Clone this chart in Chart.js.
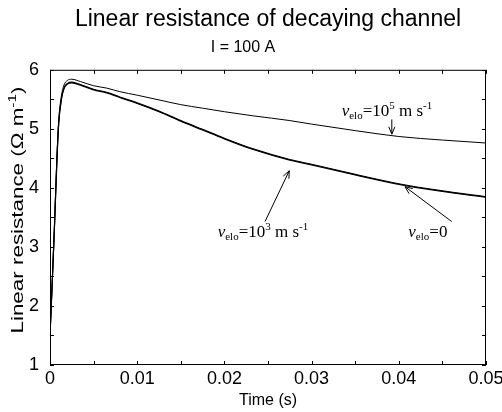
<!DOCTYPE html>
<html>
<head>
<meta charset="utf-8">
<script src="https://cdn.jsdelivr.net/npm/chart.js@4.4.1/dist/chart.umd.min.js"></script>
<style>
  body { margin: 0; background: #fff; }
  canvas { display: block; }
</style>
</head>
<body>
<canvas id="chart" width="502" height="412"></canvas>
<script>
// data
const timeS = [0, 0.0002, 0.0005, 0.0008, 0.001, 0.0013, 0.0016, 0.002, 0.0025, 0.0035,
  0.005, 0.0065, 0.008, 0.01, 0.0125, 0.015, 0.0175, 0.02, 0.0233, 0.0275,
  0.03, 0.035, 0.04, 0.045, 0.05];
const rVelo0 = [1.5, 2.2, 3.3, 4.5, 5.1, 5.5, 5.68, 5.76, 5.78, 5.74,
  5.66, 5.61, 5.53, 5.43, 5.29, 5.13, 4.98, 4.83, 4.65, 4.47,
  4.39, 4.22, 4.06, 3.94, 3.84];
const rVelo1e3 = [1.5, 2.2, 3.3, 4.5, 5.1, 5.5, 5.69, 5.77, 5.79, 5.75,
  5.67, 5.62, 5.54, 5.44, 5.30, 5.14, 4.99, 4.84, 4.66, 4.48,
  4.40, 4.23, 4.07, 3.95, 3.85];
const rVelo1e5 = [1.5, 2.2, 3.3, 4.55, 5.15, 5.55, 5.74, 5.82, 5.84, 5.80,
  5.73, 5.69, 5.63, 5.57, 5.49, 5.41, 5.35, 5.29, 5.22, 5.14,
  5.08, 4.97, 4.87, 4.81, 4.76];
const xTicks = [0, 0.01, 0.02, 0.03, 0.04, 0.05];
const yTicks = [1, 2, 3, 4, 5, 6];

const toXY = (ys) => ys.map((y, i) => ({ x: timeS[i], y: y }));

// labels on the plot: [text pieces], anchor in data units, arrow from/to in data units
const notes = [
  { at: [0.03345, 5.22], parts: [['v', 'i'], ['elo', 'sub'], ['=10', ''], ['5', 'sup'], [' m s', ''], ['-1', 'sup']],
    arrow: [[0.0392, 5.16], [0.0392, 4.91]] },
  { at: [0.01923, 3.175], parts: [['v', 'i'], ['elo', 'sub'], ['=10', ''], ['3', 'sup'], [' m s', ''], ['-1', 'sup']],
    arrow: [[0.02466, 3.43], [0.02744, 4.29]] },
  { at: [0.04109, 3.175], parts: [['v', 'i'], ['elo', 'sub'], ['=0', '']],
    arrow: [[0.04607, 3.43], [0.04071, 4.02]] },
];

const serif = '"Liberation Serif", "Times New Roman", serif';
const sans = '"Liberation Sans", Arial, Helvetica, sans-serif';

function partFont(kind) {
  if (kind === 'i') return 'italic 17px ' + serif;
  if (kind === 'sub' || kind === 'sup') return '11px ' + serif;
  return '17px ' + serif;
}

const framePlugin = {
  id: 'frame',
  afterDraw(chart) {
    const ctx = chart.ctx;
    const a = chart.chartArea;
    const xs = chart.scales.x, ys = chart.scales.y;
    ctx.save();
    ctx.strokeStyle = '#000';
    ctx.lineWidth = 1;
    ctx.strokeRect(a.left + 0.5, a.top + 0.5, a.right - a.left - 1, a.bottom - a.top - 1);
    // inward ticks, every half step, all four sides
    ctx.beginPath();
    for (let i = 0; i < xTicks.length; i++) {
      const vals = [xTicks[i]];
      if (i < xTicks.length - 1) vals.push((xTicks[i] + xTicks[i + 1]) / 2);
      vals.forEach(v => {
        const px = Math.round(xs.getPixelForValue(v)) + 0.5;
        ctx.moveTo(px, a.bottom); ctx.lineTo(px, a.bottom - 4);
        ctx.moveTo(px, a.top); ctx.lineTo(px, a.top + 4);
      });
    }
    for (let i = 0; i < yTicks.length; i++) {
      const vals = [yTicks[i]];
      if (i < yTicks.length - 1) vals.push((yTicks[i] + yTicks[i + 1]) / 2);
      vals.forEach(v => {
        const py = Math.round(ys.getPixelForValue(v)) + 0.5;
        ctx.moveTo(a.left, py); ctx.lineTo(a.left + 4, py);
        ctx.moveTo(a.right, py); ctx.lineTo(a.right - 4, py);
      });
    }
    ctx.stroke();

    // y axis title, drawn long like the reference
    ctx.translate(19, 210);
    ctx.rotate(-Math.PI / 2);
    ctx.scale(1.4, 1);
    ctx.fillStyle = '#000';
    ctx.textBaseline = 'middle';
    const main = 'Linear resistance (Ω m';
    ctx.font = '16px ' + sans;
    const w1 = ctx.measureText(main).width;
    ctx.font = '11px ' + sans;
    const w2 = ctx.measureText('-1').width;
    ctx.font = '16px ' + sans;
    const w3 = ctx.measureText(')').width;
    let x0 = -(w1 + w2 + w3) / 2;
    ctx.fillText(main, x0, 0);
    ctx.font = '11px ' + sans;
    ctx.fillText('-1', x0 + w1, -6);
    ctx.font = '16px ' + sans;
    ctx.fillText(')', x0 + w1 + w2, 0);
    ctx.restore();

    // notes with arrows
    ctx.save();
    ctx.fillStyle = '#000';
    ctx.strokeStyle = '#000';
    ctx.lineWidth = 1;
    ctx.textBaseline = 'alphabetic';
    notes.forEach(n => {
      let x = xs.getPixelForValue(n.at[0]);
      const y = ys.getPixelForValue(n.at[1]);
      n.parts.forEach(([t, kind]) => {
        ctx.font = partFont(kind);
        const dy = kind === 'sub' ? 3 : kind === 'sup' ? -7 : 0;
        ctx.fillText(t, x, y + dy);
        x += ctx.measureText(t).width;
      });
      const x1 = xs.getPixelForValue(n.arrow[0][0]), y1 = ys.getPixelForValue(n.arrow[0][1]);
      const x2 = xs.getPixelForValue(n.arrow[1][0]), y2 = ys.getPixelForValue(n.arrow[1][1]);
      const ang = Math.atan2(y2 - y1, x2 - x1);
      ctx.beginPath();
      ctx.moveTo(x1, y1); ctx.lineTo(x2, y2);
      ctx.moveTo(x2 - 8 * Math.cos(ang - 0.4), y2 - 8 * Math.sin(ang - 0.4));
      ctx.lineTo(x2, y2);
      ctx.lineTo(x2 - 8 * Math.cos(ang + 0.4), y2 - 8 * Math.sin(ang + 0.4));
      ctx.stroke();
    });
    ctx.restore();
  }
};

new Chart(document.getElementById('chart').getContext('2d'), {
  type: 'line',
  data: {
    datasets: [
      { label: 'velo=10^5', data: toXY(rVelo1e5), borderColor: '#000', borderWidth: 1 },
      { label: 'velo=10^3', data: toXY(rVelo1e3), borderColor: '#000', borderWidth: 1.2 },
      { label: 'velo=0', data: toXY(rVelo0), borderColor: '#000', borderWidth: 1.2 },
    ]
  },
  options: {
    responsive: false,
    animation: false,
    cubicInterpolationMode: 'monotone',
    elements: { point: { radius: 0 } },
    layout: { padding: { left: 0, right: 16, top: 0, bottom: 0 } },
    plugins: {
      legend: { display: false },
      tooltip: { enabled: false },
      title: {
        display: true,
        fullSize: false,
        text: 'Linear resistance of decaying channel',
        color: '#000',
        font: { family: sans, size: 23, weight: 'normal' },
        padding: { top: 6, bottom: 2 }
      },
      subtitle: {
        display: true,
        text: 'I = 100 A',
        color: '#000',
        font: { family: sans, size: 16, weight: 'normal' },
        padding: { top: 2, bottom: 13 }
      }
    },
    scales: {
      x: {
        type: 'linear',
        min: 0, max: 0.05,
        afterBuildTicks: (s) => { s.ticks = xTicks.map(v => ({ value: v })); },
        afterFit: (s) => { s.height = 47; s.paddingLeft = 0; s.paddingRight = 0; },
        grid: { display: false },
        border: { display: false },
        ticks: {
          color: '#000', padding: -5, maxRotation: 0, autoSkip: false,
          font: { family: sans, size: 18 },
          callback: (v) => String(+v.toFixed(2))
        },
        title: {
          display: true, text: 'Time (s)', color: '#000',
          font: { family: sans, size: 16 }, padding: { top: 0, bottom: 2 }
        }
      },
      y: {
        type: 'linear',
        min: 1, max: 6,
        afterBuildTicks: (s) => { s.ticks = yTicks.map(v => ({ value: v })); },
        afterFit: (s) => { s.width = 50; s.paddingTop = 0; s.paddingBottom = 0; },
        grid: { display: false },
        border: { display: false },
        ticks: {
          color: '#000', padding: 3,
          font: { family: sans, size: 18 }
        }
      }
    }
  },
  plugins: [framePlugin]
});
</script>
</body>
</html>
